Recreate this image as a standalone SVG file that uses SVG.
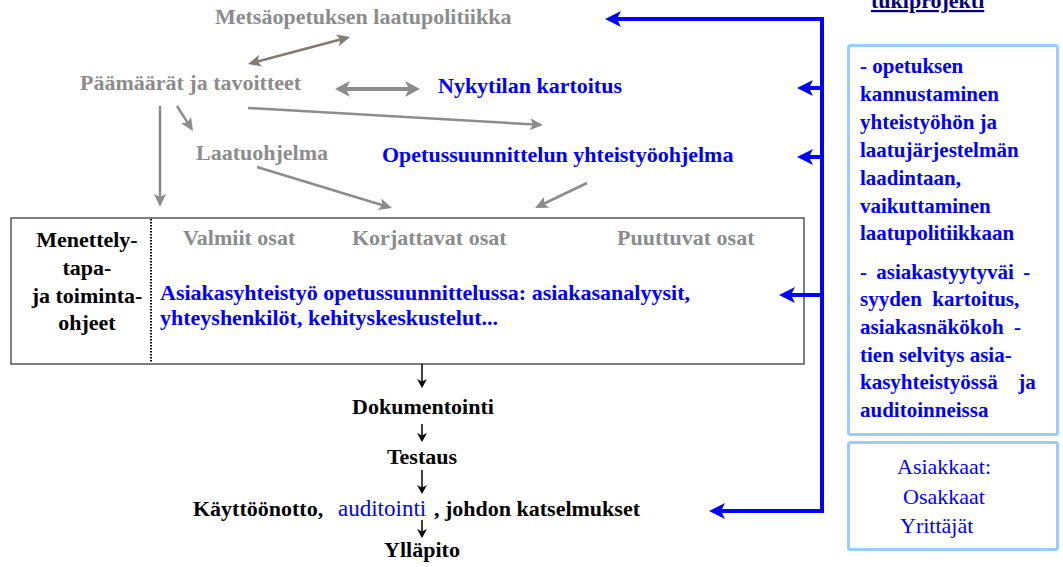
<svg xmlns="http://www.w3.org/2000/svg" width="1063" height="567" viewBox="0 0 1063 567">
<style>
text{font-family:"Liberation Serif","Times New Roman",serif;font-size:22px;font-weight:bold}
.g{fill:#8c8c8c}
.b{fill:#0000ff}
.k{fill:#000}
.bx{font-size:21px}
.reg{font-weight:normal;font-size:22px}
.gl{stroke:#8c8c8c;stroke-width:2.5;fill:none;marker-end:url(#gh)}
.bl{stroke:#0000ff;stroke-width:4;fill:none}
.ba{stroke:#0000ff;stroke-width:4;fill:none;marker-end:url(#bh)}
.kl{stroke:#000;stroke-width:1.5;fill:none;marker-end:url(#kh)}
.pane{fill:#fff;stroke:#99ccff;stroke-width:3}
</style>
<defs>
<marker id="bh" markerUnits="userSpaceOnUse" viewBox="0 0 16 16" refX="6" refY="8" markerWidth="16" markerHeight="16" orient="auto"><path d="M0,0 L16,8 L0,16 L4,8 z" fill="#0000ff"/></marker>
<marker id="gh" markerUnits="userSpaceOnUse" viewBox="0 0 13 12" refX="5" refY="6" markerWidth="13" markerHeight="12" orient="auto-start-reverse"><path d="M0,0 L13,6 L0,12 L3,6 z" fill="#8c8c8c"/></marker>
<marker id="gh2" markerUnits="userSpaceOnUse" viewBox="0 0 13 12" refX="5" refY="6" markerWidth="13" markerHeight="12" orient="auto-start-reverse"><path d="M0,0 L13,6 L0,12 L3,6 z" fill="#817b74"/></marker>
<marker id="ghb" markerUnits="userSpaceOnUse" viewBox="0 0 15 16" refX="5" refY="8" markerWidth="15" markerHeight="16" orient="auto-start-reverse"><path d="M0,0 L15,8 L0,16 L4,8 z" fill="#8c8c8c"/></marker>
<marker id="kh" markerUnits="userSpaceOnUse" viewBox="0 0 9 10" refX="3" refY="5" markerWidth="9" markerHeight="10" orient="auto"><path d="M0,0 L9,5 L0,10 L2.5,5 z" fill="#000"/></marker>
</defs>

<g id="n-laatupolitiikka"><text class="g" x="215" y="24">Metsäopetuksen laatupolitiikka</text></g>
<g id="n-paamaarat"><text class="g" x="80" y="90">Päämäärät ja tavoitteet</text></g>
<g id="n-nykytila"><text class="b" x="438" y="93">Nykytilan kartoitus</text></g>
<g id="n-laatuohjelma"><text class="g" x="196" y="160">Laatuohjelma</text></g>
<g id="n-opetus"><text class="b" x="382" y="162">Opetussuunnittelun yhteistyöohjelma</text></g>

<g id="n-menettely">
<rect x="11" y="218" width="793" height="146" fill="#fff" stroke="#555" stroke-width="1.5"/>
<line x1="151" y1="219" x2="151" y2="363" stroke="#000" stroke-width="2" stroke-dasharray="1.5,1.5"/>
<text class="k" text-anchor="middle" x="87"><tspan x="87" y="247">Menettely-</tspan><tspan x="87" y="275">tapa-</tspan><tspan x="87" y="303">ja toiminta-</tspan><tspan x="87" y="330">ohjeet</tspan></text>
<text class="g" x="183" y="245">Valmiit osat</text>
<text class="g" x="352" y="245">Korjattavat osat</text>
<text class="g" x="617" y="245">Puuttuvat osat</text>
<text class="b"><tspan x="160" y="300">Asiakasyhteistyö opetussuunnittelussa: asiakasanalyysit,</tspan><tspan x="160" y="325">yhteyshenkilöt, kehityskeskustelut...</tspan></text>
</g>

<g id="n-dokumentointi"><text class="k" text-anchor="middle" x="423" y="414" font-size="20.5">Dokumentointi</text></g>
<g id="n-testaus"><text class="k" text-anchor="middle" x="422" y="464">Testaus</text></g>
<g id="n-kayttoonotto"><text class="k" y="516"><tspan x="193">Käyttöönotto,</tspan><tspan class="b" font-weight="normal" font-size="23" x="338">auditointi</tspan><tspan x="434">, johdon katselmukset</tspan></text></g>
<g id="n-yllapito"><text class="k" text-anchor="middle" x="422" y="557" font-size="21">Ylläpito</text></g>

<g id="n-tukiprojekti"><text x="871" y="8" fill="#000080" text-decoration="underline">tukiprojekti</text></g>

<g id="n-tavoitteet">
<rect class="pane" x="848.5" y="45.5" width="209" height="389" rx="2"/>
<text class="b bx" xml:space="preserve"><tspan x="860" y="73">- opetuksen</tspan><tspan x="860" y="101">kannustaminen</tspan><tspan x="860" y="129">yhteistyöhön ja</tspan><tspan x="860" y="157">laatujärjestelmän</tspan><tspan x="860" y="185">laadintaan,</tspan><tspan x="860" y="213">vaikuttaminen</tspan><tspan x="860" y="240">laatupolitiikkaan</tspan><tspan x="860" y="279" word-spacing="4">- asiakastyytyväi -</tspan><tspan x="860" y="306">syyden  kartoitus,</tspan><tspan x="860" y="334">asiakasnäkökoh  -</tspan><tspan x="860" y="362">tien selvitys asia-</tspan><tspan x="860" y="389" word-spacing="5">kasyhteistyössä  ja</tspan><tspan x="860" y="417">auditoinneissa</tspan></text>
</g>

<g id="n-asiakkaat">
<rect class="pane" x="848.5" y="442.5" width="209" height="107" rx="2"/>
<text class="b reg"><tspan x="897" y="474">Asiakkaat:</tspan><tspan x="903" y="504">Osakkaat</tspan><tspan x="900" y="533">Yrittäjät</tspan></text>
</g>

<g id="connectors">
<line x1="255.7" y1="62" x2="342.3" y2="39" stroke="#817b74" stroke-width="2.5" marker-start="url(#gh2)" marker-end="url(#gh2)"/>
<line x1="345" y1="89" x2="410" y2="89" stroke="#8c8c8c" stroke-width="4" marker-start="url(#ghb)" marker-end="url(#ghb)"/>
<line class="gl" x1="248" y1="108" x2="535" y2="124.5"/>
<line class="gl" x1="177" y1="106" x2="188.7" y2="124.3"/>
<line class="gl" x1="160" y1="106" x2="160" y2="199"/>
<line class="gl" x1="257" y1="167" x2="384.3" y2="205.7"/>
<line class="gl" x1="587" y1="183" x2="542.2" y2="204.5"/>
<line class="bl" x1="822" y1="17" x2="822" y2="513"/>
<line class="ba" x1="822" y1="19" x2="615" y2="19"/>
<line class="ba" x1="822" y1="88" x2="807" y2="88"/>
<line class="ba" x1="822" y1="157" x2="807" y2="157"/>
<line class="ba" x1="822" y1="295" x2="789" y2="295"/>
<line class="ba" x1="822" y1="511" x2="719" y2="511"/>
<line class="kl" x1="422" y1="364" x2="422" y2="382"/>
<line class="kl" x1="422" y1="424" x2="422" y2="436"/>
<line class="kl" x1="422" y1="470" x2="422" y2="488"/>
<line class="kl" x1="422" y1="520" x2="422" y2="532"/>
</g>
</svg>
